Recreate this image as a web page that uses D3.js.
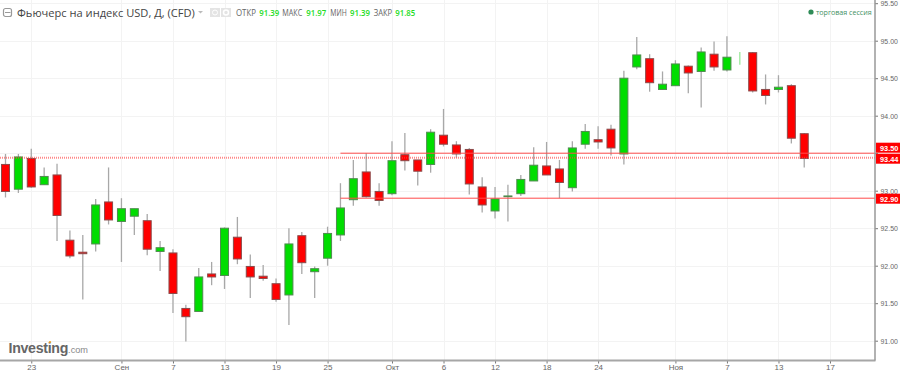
<!DOCTYPE html>
<html lang="ru">
<head>
    <meta charset="UTF-8">
    <title>Фьючерс на индекс USD</title>
    <script src="https://cdn.jsdelivr.net/npm/d3@7/dist/d3.min.js"></script>
    <style>
        html, body { margin: 0; padding: 0; background: #fff; overflow: hidden; }
        svg { display: block; }
        .axis text { font-family: "Liberation Sans", Arial, sans-serif; font-size: 8px; fill: #666; }
        .head { font-family: "Open Sans", sans-serif; }
    </style>
</head>
<body>
<script type="text/javascript">
    let width = 900,
        height = 373,
        plotRight = 875,
        plotBottom = 360.5;

    // дневные свечи
    let opens = [93.35, 93.02, 93.43, 93.08, 93.21, 92.34, 92.18, 92.29, 92.85, 92.59, 92.66, 92.60, 92.19, 92.17, 91.43, 91.39,
        91.89, 91.87, 92.38, 91.99, 91.86, 91.76, 91.61, 92.40, 91.92, 92.10, 92.41, 92.88, 93.25, 92.99, 92.96, 93.48,
        93.41, 93.35, 93.74, 93.61, 93.55, 93.05, 92.73, 92.92, 92.96, 93.13, 93.33, 93.29, 93.04, 93.62, 93.68, 93.82,
        93.49, 94.65, 94.76, 94.35, 94.40, 94.66, 94.59, 94.82, 94.61, 94.76, 94.84, 94.35, 94.35, 94.40, 93.76];
    let highs = [93.49, 93.49, 93.56, 93.31, 93.36, 92.47, 92.41, 92.89, 93.31, 92.90, 92.76, 92.69, 92.33, 92.22, 91.48, 91.97,
        92.05, 92.51, 92.65, 92.15, 92.01, 91.83, 92.50, 92.45, 91.99, 92.52, 93.10, 93.41, 93.50, 93.10, 93.66, 93.77,
        93.41, 93.82, 94.09, 93.66, 93.57, 93.18, 93.05, 93.08, 93.21, 93.58, 93.65, 93.41, 93.66, 93.89, 93.86, 93.88,
        94.60, 95.05, 94.82, 94.59, 94.74, 94.67, 94.91, 94.99, 95.06, 94.85, 94.85, 94.55, 94.54, 94.42, 93.77];
    let lows = [92.91, 92.97, 93.04, 93.08, 92.33, 92.10, 91.55, 92.19, 92.55, 92.05, 92.41, 92.14, 91.93, 91.37, 90.99, 91.39,
        91.74, 91.69, 92.02, 91.57, 91.80, 91.52, 91.21, 91.89, 91.57, 92.00, 92.33, 92.80, 92.91, 92.80, 92.94, 93.27,
        93.07, 93.24, 93.59, 93.44, 92.95, 92.71, 92.63, 92.59, 92.93, 93.13, 93.21, 92.90, 92.99, 93.56, 93.56, 93.47,
        93.35, 94.62, 94.32, 94.35, 94.40, 94.30, 94.11, 94.60, 94.59, 94.68, 94.31, 94.15, 94.31, 93.63, 93.31];
    let closes = [92.99, 93.45, 93.05, 93.19, 92.67, 92.13, 92.16, 92.81, 92.61, 92.76, 92.76, 92.22, 92.24, 91.63, 91.32, 91.85,
        91.85, 92.50, 92.09, 91.85, 91.83, 91.55, 92.29, 92.04, 91.96, 92.43, 92.77, 93.16, 92.92, 92.87, 93.40, 93.40,
        93.26, 93.78, 93.62, 93.49, 93.09, 92.81, 92.89, 92.93, 93.15, 93.34, 93.21, 93.11, 93.57, 93.79, 93.65, 93.57,
        94.50, 94.81, 94.44, 94.42, 94.69, 94.57, 94.85, 94.65, 94.78, 94.76, 94.33, 94.27, 94.38, 93.70, 93.43];

    let dateTicks = [2, 9, 13, 17, 21, 25, 30, 34, 38, 42, 46, 52, 56, 60, 64];
    let dateLabels = ["23", "Сен", "7", "13", "19", "25", "Окт", "6", "12", "18", "24", "Ноя", "7", "13", "17"];
    let priceTicks = [91, 91.5, 92, 92.5, 93, 93.5, 94, 94.5, 95, 95.5];

    let levels = [93.5, 92.9];
    let levelStart = 26;
    let lastPrice = 93.44;

    let headNames = ["ОТКР", "МАКС", "МИН", "ЗАКР"];
    let headValues = ["91.39", "91.97", "91.39", "91.85"];

    let svg = d3.select("body").append("svg")
        .attr("width", width)
        .attr("height", height);

    let x = d3.scaleLinear().domain([0, 64]).range([5.5, 830]);
    let y = d3.scaleLinear().domain([91, 95.5]).range([340.7, 3.2]);

    let xAxis = d3.axisBottom(x)
        .tickValues(dateTicks)
        .tickFormat(function (d, i) { return dateLabels[i]; })
        .tickSize(3)
        .tickPadding(1);
    // подпись 93.50 закрыта красной меткой
    let yAxis = d3.axisRight(y)
        .tickValues(priceTicks)
        .tickFormat(function (d) { return levels.includes(d) ? "" : d3.format(".2f")(d); })
        .tickSize(3)
        .tickPadding(2);

    // сетка
    svg.append("g").selectAll("line")
        .data(dateTicks)
        .join("line")
        .attr("x1", function (d) { return Math.round(x(d)) + 0.5; })
        .attr("x2", function (d) { return Math.round(x(d)) + 0.5; })
        .attr("y1", 0)
        .attr("y2", plotBottom)
        .attr("stroke", "#f3f3f3");
    svg.append("g").selectAll("line")
        .data(priceTicks)
        .join("line")
        .attr("x1", 0)
        .attr("x2", plotRight)
        .attr("y1", function (d) { return Math.round(y(d)) + 0.5; })
        .attr("y2", function (d) { return Math.round(y(d)) + 0.5; })
        .attr("stroke", "#f3f3f3");

    // свечи
    let candles = svg.append("g").selectAll("g")
        .data(d3.range(opens.length))
        .join("g");
    candles.append("line")
        .attr("x1", function (i) { return x(i); })
        .attr("x2", function (i) { return x(i); })
        .attr("y1", function (i) { return y(highs[i]); })
        .attr("y2", function (i) { return y(lows[i]); })
        .attr("stroke", function (i) { return closes[i] === opens[i] ? "#9be89b" : "#a8a8a8"; })
        .attr("stroke-width", 1.3);
    candles.append("rect")
        .attr("x", function (i) { return x(i) - 4; })
        .attr("width", 8)
        .attr("y", function (i) { return y(Math.max(opens[i], closes[i])); })
        .attr("height", function (i) { return Math.abs(y(opens[i]) - y(closes[i])); })
        .attr("fill", function (i) { return closes[i] > opens[i] ? "#00dd00" : "#ff0000"; })
        .attr("stroke", function (i) {
            if (closes[i] === opens[i]) return "#9be89b";
            return closes[i] > opens[i] ? "#4f8a4f" : "#8a4a4a";
        })
        .attr("stroke-width", 1);

    // уровни
    svg.append("g").selectAll("line")
        .data(levels)
        .join("line")
        .attr("x1", x(levelStart))
        .attr("x2", plotRight)
        .attr("y1", function (d) { return y(d); })
        .attr("y2", function (d) { return y(d); })
        .attr("stroke", "#ff4a4a")
        .attr("stroke-width", 1);
    svg.append("line")
        .attr("x1", 0)
        .attr("x2", plotRight)
        .attr("y1", y(lastPrice))
        .attr("y2", y(lastPrice))
        .attr("stroke", "#ff3a3a")
        .attr("stroke-width", 2)
        .attr("stroke-opacity", 0.6)
        .attr("stroke-dasharray", "1,1");

    // оси
    let gx = svg.append("g")
        .attr("class", "axis")
        .attr("transform", "translate(0," + plotBottom + ")")
        .call(xAxis);
    gx.select(".domain").remove();
    gx.selectAll("line").attr("stroke", "#777");
    let gy = svg.append("g")
        .attr("class", "axis")
        .attr("transform", "translate(" + plotRight + ",0)")
        .call(yAxis);
    gy.select(".domain").remove();
    gy.selectAll("line").attr("stroke", "#777");
    gy.selectAll("text")
        .attr("x", 0)
        .attr("transform", "translate(5.5,0) scale(0.87,1)");

    svg.append("line")
        .attr("x1", 0).attr("x2", plotRight + 0.5)
        .attr("y1", plotBottom).attr("y2", plotBottom)
        .attr("stroke", "#a6a6a6").attr("stroke-width", 2);
    svg.append("line")
        .attr("x1", plotRight).attr("x2", plotRight)
        .attr("y1", 0).attr("y2", plotBottom)
        .attr("stroke", "#999").attr("stroke-width", 1.5);

    // красные метки справа, верхняя уступает место соседней
    let tags = svg.append("g").selectAll("g")
        .data(levels.concat([lastPrice]))
        .join("g")
        .attr("transform", function (d) {
            let shift = d === 93.5 ? -5.5 : (d === 92.9 ? 0.5 : 1);
            return "translate(" + plotRight + "," + (y(d) + shift) + ")";
        });
    tags.append("rect")
        .attr("x", 1).attr("y", -5)
        .attr("width", 24).attr("height", 10)
        .attr("fill", "#ff0000");
    tags.append("text")
        .attr("transform", "translate(5,3) scale(0.92,1)")
        .attr("font-family", "Liberation Sans, Arial, sans-serif")
        .attr("font-size", 8)
        .attr("font-weight", "bold")
        .attr("fill", "#fff")
        .text(function (d) { return d.toFixed(2); });

    // шапка
    let head = svg.append("g").attr("class", "head");
    head.append("rect")
        .attr("x", 3.5).attr("y", 8.5).attr("width", 8).attr("height", 8).attr("rx", 2)
        .attr("fill", "#fff").attr("stroke", "#999").attr("stroke-width", 1.2);
    head.append("line")
        .attr("x1", 5).attr("x2", 10.5).attr("y1", 12.5).attr("y2", 12.5)
        .attr("stroke", "#999");
    head.append("text")
        .attr("x", 17).attr("y", 16.5)
        .attr("font-size", 11.1)
        .attr("fill", "#444")
        .text("Фьючерс на индекс USD, Д, (CFD)");
    head.append("path")
        .attr("d", "M198,11h5l-2.5,2.5z")
        .attr("fill", "#bbb");
    head.append("rect").attr("x", 210).attr("y", 8).attr("width", 10).attr("height", 9).attr("fill", "#e4e4e4");
    head.append("circle").attr("cx", 215).attr("cy", 12.5).attr("r", 2.5).attr("fill", "none").attr("stroke", "#fff");
    head.append("rect").attr("x", 221).attr("y", 8).attr("width", 10).attr("height", 9).attr("fill", "#e4e4e4");
    head.append("circle").attr("cx", 226).attr("cy", 12.5).attr("r", 2.5).attr("fill", "none").attr("stroke", "#fff").attr("stroke-width", 1.5);

    let namePos = [236, 282.3, 330.3, 373.7];
    let nameLen = [20, 20, 16.5, 18.5];
    let valuePos = [259.3, 306.3, 350, 395.3];
    headNames.forEach(function (name, i) {
        head.append("text")
            .attr("x", namePos[i]).attr("y", 15.5)
            .attr("font-size", 8.5).attr("fill", "#666")
            .attr("textLength", nameLen[i])
            .attr("lengthAdjust", "spacingAndGlyphs")
            .text(name);
        head.append("text")
            .attr("x", valuePos[i]).attr("y", 15.5)
            .attr("font-size", 8.5).attr("font-weight", 600).attr("fill", "#22dd22")
            .attr("textLength", 20)
            .attr("lengthAdjust", "spacingAndGlyphs")
            .text(headValues[i]);
    });

    head.append("circle").attr("cx", 811).attr("cy", 12).attr("r", 2.6).attr("fill", "#2e8b57");
    head.append("text")
        .attr("x", 816).attr("y", 14.5)
        .attr("font-size", 7.1).attr("fill", "#3f8f63")
        .text("торговая сессия");

    // логотип
    let logo = svg.append("text")
        .attr("x", 8.5).attr("y", 353)
        .attr("font-family", "Liberation Sans, Arial, sans-serif")
        .attr("fill", "#666");
    logo.append("tspan").attr("font-size", 14.2).attr("font-weight", "bold").attr("letter-spacing", -0.3).text("Investing");
    logo.append("tspan").attr("font-size", 9.2).attr("fill", "#888").text(".com");
    svg.append("circle").attr("cx", 50).attr("cy", 342).attr("r", 1.1).attr("fill", "#f5a623");
</script>
</body>
</html>
